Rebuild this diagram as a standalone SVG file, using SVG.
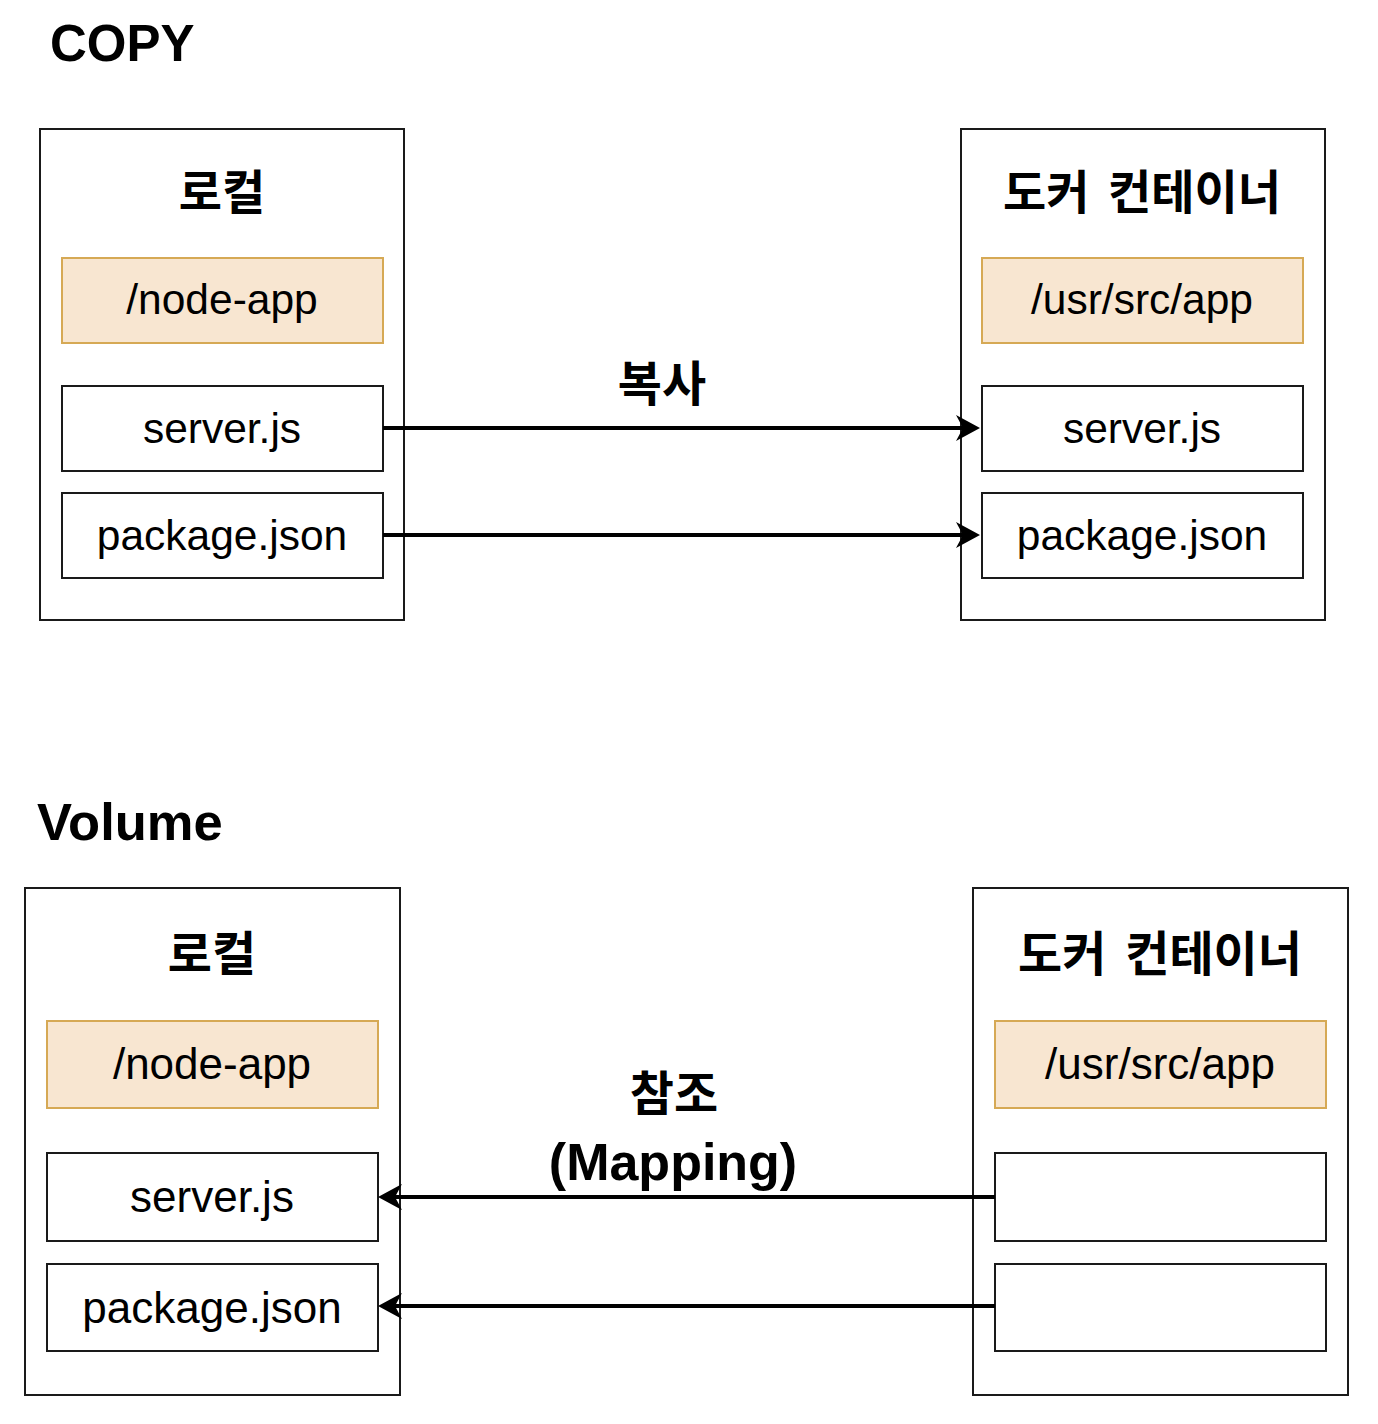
<svg xmlns="http://www.w3.org/2000/svg" width="1378" height="1424" viewBox="0 0 1378 1424">
<defs>
<style>
.box{fill:#ffffff;stroke:#1a1a1a;stroke-width:2}
.dir{fill:#f8e6d1;stroke:#d6a955;stroke-width:2}
.t{font-family:"Liberation Sans",Arial,sans-serif;fill:#000;text-anchor:middle}
.k{font-family:"Noto Sans CJK KR","Liberation Sans",sans-serif;font-weight:bold;fill:#000;text-anchor:middle}
.h{font-family:"Liberation Sans",Arial,sans-serif;font-weight:bold;fill:#000}
.edge{stroke:#000;stroke-width:4;fill:none}
</style>
<marker id="arr" markerUnits="userSpaceOnUse" markerWidth="26" markerHeight="30" viewBox="0 -14 26 28" refX="7" refY="0" orient="auto">
<path d="M0,-13 L24,0 L0,13 L7,0 Z" fill="#000"/>
</marker>
</defs>
<rect width="1378" height="1424" fill="#ffffff"/>

<text class="h" x="50" y="61" font-size="51">COPY</text>
<text class="h" x="37" y="840" font-size="52.5">Volume</text>

<!-- COPY section -->
<g id="copy-local">
<rect class="box" x="40" y="129" width="364" height="491"/>
<text class="k" x="222" y="209" font-size="47">로컬</text>
</g>
<g id="copy-local-dir">
<rect class="dir" x="62" y="258" width="321" height="85"/>
<text class="t" x="222" y="314" font-size="42.5">/node-app</text>
</g>
<g id="copy-local-server">
<rect class="box" x="62" y="386" width="321" height="85"/>
<text class="t" x="222" y="443" font-size="42.5">server.js</text>
</g>
<g id="copy-local-package">
<rect class="box" x="62" y="493" width="321" height="85"/>
<text class="t" x="222" y="550" font-size="42.5">package.json</text>
</g>

<g id="copy-docker">
<rect class="box" x="961" y="129" width="364" height="491"/>
<text class="k" x="1142" y="209" font-size="47" word-spacing="8">도커 컨테이너</text>
</g>
<g id="copy-docker-dir">
<rect class="dir" x="982" y="258" width="321" height="85"/>
<text class="t" x="1142" y="314" font-size="42.5">/usr/src/app</text>
</g>
<g id="copy-docker-server">
<rect class="box" x="982" y="386" width="321" height="85"/>
<text class="t" x="1142" y="443" font-size="42.5">server.js</text>
</g>
<g id="copy-docker-package">
<rect class="box" x="982" y="493" width="321" height="85"/>
<text class="t" x="1142" y="550" font-size="42.5">package.json</text>
</g>

<!-- Volume section -->
<g id="vol-local">
<rect class="box" x="25" y="888" width="375" height="507"/>
<text class="k" x="212" y="971" font-size="48">로컬</text>
</g>
<g id="vol-local-dir">
<rect class="dir" x="47" y="1021" width="331" height="87"/>
<text class="t" x="212" y="1079" font-size="44">/node-app</text>
</g>
<g id="vol-local-server">
<rect class="box" x="47" y="1153" width="331" height="88"/>
<text class="t" x="212" y="1212" font-size="44">server.js</text>
</g>
<g id="vol-local-package">
<rect class="box" x="47" y="1264" width="331" height="87"/>
<text class="t" x="212" y="1323" font-size="44">package.json</text>
</g>

<g id="vol-docker">
<rect class="box" x="973" y="888" width="375" height="507"/>
<text class="k" x="1160" y="971" font-size="48" word-spacing="8">도커 컨테이너</text>
</g>
<g id="vol-docker-dir">
<rect class="dir" x="995" y="1021" width="331" height="87"/>
<text class="t" x="1160" y="1079" font-size="44">/usr/src/app</text>
</g>
<g id="vol-docker-slot1">
<rect class="box" x="995" y="1153" width="331" height="88"/>
</g>
<g id="vol-docker-slot2">
<rect class="box" x="995" y="1264" width="331" height="87"/>
</g>

<!-- connectors -->
<g id="connectors">
<line class="edge" x1="383" y1="428" x2="963" y2="428" marker-end="url(#arr)"/>
<line class="edge" x1="383" y1="535" x2="963" y2="535" marker-end="url(#arr)"/>
<text class="k" x="662" y="401" font-size="48">복사</text>
<line class="edge" x1="995" y1="1197" x2="395" y2="1197" marker-end="url(#arr)"/>
<line class="edge" x1="995" y1="1306" x2="395" y2="1306" marker-end="url(#arr)"/>
<text class="k" x="674" y="1111" font-size="48">참조</text>
<text class="t" x="673" y="1180" font-size="52" font-weight="bold">(Mapping)</text>
</g>
</svg>
